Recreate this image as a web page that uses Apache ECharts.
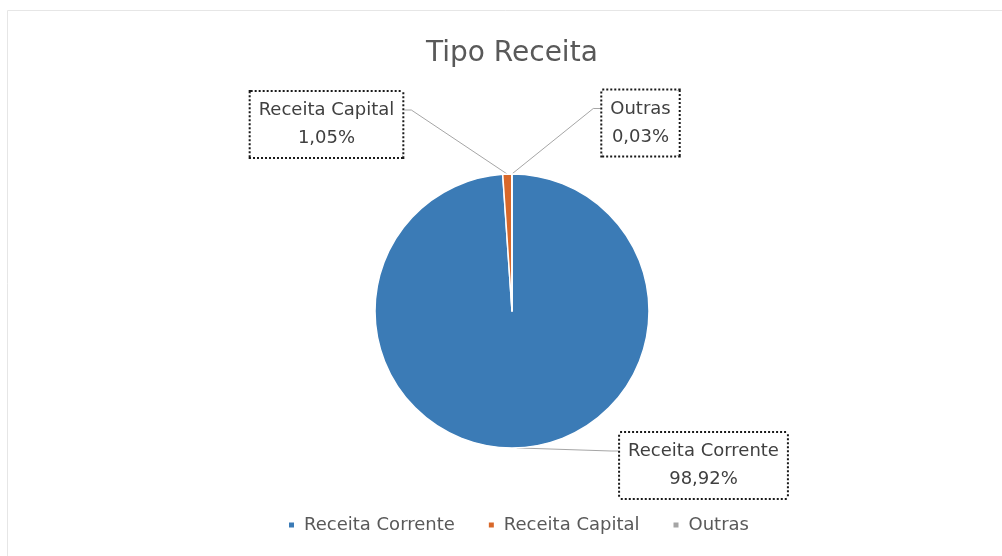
<!DOCTYPE html>
<html>
<head>
<meta charset="utf-8">
<script src="https://cdn.jsdelivr.net/npm/echarts@6/dist/echarts.min.js"></script>
<style>
html,body{margin:0;padding:0;background:#fff;}
#c{width:1002px;height:556px;}
</style>
</head>
<body>
<div id="c"></div>
<script>
const titleText = 'Tipo Receita';
const categories = ['Receita Corrente', 'Receita Capital', 'Outras'];
const percentValues = [98.92, 1.05, 0.03];
const colors = ['#3b7bb6', '#d8682a', '#a5a5a5'];
// label box centres and which side the leader line attaches to (layout only)
const labelPos = [[703.5, 465.5], [326.5, 124.5], [640.5, 123]];
const labelSide = ['left', 'right', 'left'];

const chart = echarts.init(document.getElementById('c'));
const fontFam = '"DejaVu Sans", "Noto Sans", sans-serif';
function fmt(v){ return v.toFixed(2).replace('.', ',') + '%'; }

chart.setOption({
  backgroundColor: '#ffffff',
  animation: false,
  title: {
    text: titleText,
    left: 421,
    top: 35,
    textStyle: {fontFamily: fontFam, fontSize: 28, fontWeight: 'normal', color: '#595959'}
  },
  legend: {
    bottom: 17,
    left: 282,
    icon: 'rect',
    itemWidth: 7,
    itemHeight: 7,
    itemGap: 32,
    textStyle: {fontFamily: fontFam, fontSize: 18, color: '#595959', padding: [0, 0, 0, 4]},
    data: categories
  },
  color: colors,
  graphic: [{
    type: 'rect',
    shape: {x: 7.5, y: 10.5, width: 1000, height: 560},
    style: {fill: 'none', stroke: '#e6e6e6', lineWidth: 1},
    silent: true
  }],
  series: [{
    type: 'pie',
    center: [512, 311],
    radius: 137,
    startAngle: 90,
    clockwise: true,
    avoidLabelOverlap: false,
    itemStyle: {borderColor: '#ffffff', borderWidth: 1.5},
    data: categories.map((c, i) => ({name: c, value: percentValues[i]})),
    label: {
      show: true,
      formatter: p => p.name + '\n' + fmt(p.value),
      fontFamily: fontFam,
      fontSize: 18,
      lineHeight: 28,
      color: '#404040',
      align: 'center',
      backgroundColor: '#ffffff',
      borderColor: '#1a1a1a',
      borderWidth: 2,
      borderType: [2, 2],
      padding: [5, 8, 4, 8]
    },
    labelLine: {
      show: true,
      length: 10,
      length2: 6,
      lineStyle: {color: '#a6a6a6', width: 1}
    },
    labelLayout: function (params) {
      const i = params.dataIndex;
      const p = labelPos[i];
      const w = params.labelRect.width, h = params.labelRect.height;
      const top = p[1] - h / 2;
      const ay = top + 20;
      let ax, ex;
      if (labelSide[i] === 'left') { ax = p[0] - w / 2; ex = ax - 7; }
      else { ax = p[0] + w / 2; ex = ax + 7; }
      const start = params.labelLinePoints ? params.labelLinePoints[0] : null;
      const res = {x: p[0], y: p[1], align: 'center', verticalAlign: 'middle'};
      if (start) {
        res.labelLinePoints = [start, [ex, ay], [ax, ay]];
      }
      return res;
    }
  }]
});
</script>
</body>
</html>
